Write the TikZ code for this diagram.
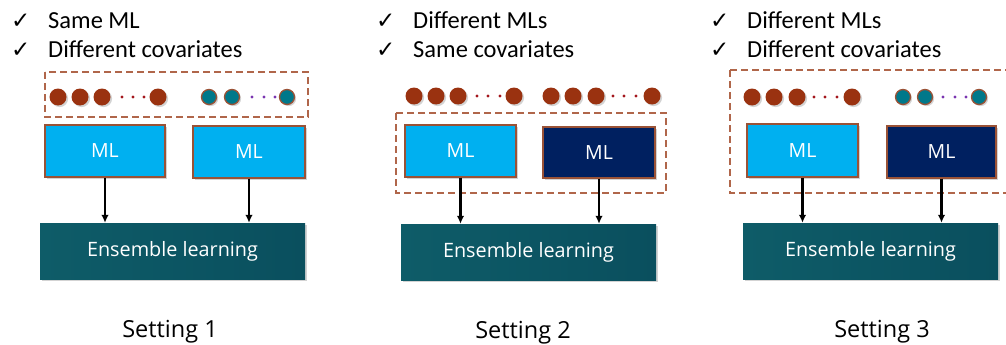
\documentclass[tikz,border=0pt]{standalone}
\usepackage{fontspec}
\setmainfont{Carlito}
\newfontfamily\boxfont{Open Sans}
\newfontfamily\symfont{DejaVu Sans}
\usetikzlibrary{shadows,arrows.meta}

\definecolor{mlblue}{HTML}{00B0F0}
\definecolor{mlnavy}{HTML}{002060}
\definecolor{enstealL}{HTML}{0E5C68}
\definecolor{enstealR}{HTML}{0A4F5E}
\definecolor{boxedge}{HTML}{9A5236}
\definecolor{dashedge}{HTML}{B0664A}
\definecolor{covbrown}{HTML}{9A3210}
\definecolor{covteal}{HTML}{00788A}
\definecolor{dotred}{HTML}{A3161C}
\definecolor{dotpurple}{HTML}{7A35B0}

\tikzset{
  softshadow/.style={drop shadow={opacity=0.35, shadow xshift=1.6pt, shadow yshift=-1.6pt}},
  mlbox/.style={rectangle, draw=boxedge, line width=1.1pt, inner sep=0pt,
    text=white, font=\boxfont\fontsize{19.5}{22}\selectfont, softshadow},
  lightml/.style={mlbox, fill=mlblue},
  navyml/.style={mlbox, fill=mlnavy},
  ensbox/.style={rectangle, inner sep=0pt, left color=enstealL, right color=enstealR,
    text=white, font=\boxfont\fontsize{19.8}{22}\selectfont, softshadow},
  dashbox/.style={draw=dashedge, line width=1.1pt, dash pattern=on 7pt off 4pt},
  bcov/.style={circle, fill=covbrown, inner sep=0pt, minimum size=17pt, softshadow},
  tcov/.style={circle, fill=covteal, draw=boxedge, line width=1.3pt, inner sep=0pt, minimum size=15pt, softshadow},
  reddot/.style={circle, fill=dotred, inner sep=0pt, minimum size=3.4pt},
  purpdot/.style={circle, fill=dotpurple, inner sep=0pt, minimum size=3.4pt},
  feed/.style={-{Latex[length=8pt,width=7.5pt]}, line width=2.4pt, draw=black},
  bullettext/.style={anchor=base west, inner sep=0pt, font=\fontsize{24.5}{28}\selectfont},
  tick/.style={anchor=base west, inner sep=0pt, font=\symfont\fontsize{23}{26}\selectfont},
  caption/.style={inner sep=0pt, font=\boxfont\fontsize{23.5}{27}\selectfont},
}

\begin{document}
\begin{tikzpicture}[x=1pt, y=-1pt]
\useasboundingbox (0,0) rectangle (1006,345);
\clip (0,0) rectangle (1006,345);

% ---------------- Setting 1 ----------------
\node[tick] (s1t1) at (11,29) {✓};
\node[bullettext] (s1b1) at (48,29) {Same ML};
\node[tick] (s1t2) at (11,57) {✓};
\node[bullettext] (s1b2) at (48,57) {Different covariates};

\draw[dashbox] (45,72) rectangle (308,117);
\node[bcov] (s1a1) at (58,97) {};
\node[bcov] (s1a2) at (80,97) {};
\node[bcov] (s1a3) at (102,97) {};
\node[reddot] (s1r1) at (122,97) {};
\node[reddot] (s1r2) at (133,97) {};
\node[reddot] (s1r3) at (144,97) {};
\node[bcov] (s1a4) at (158,97) {};
\node[tcov] (s1c1) at (209,97) {};
\node[tcov] (s1c2) at (232,97) {};
\node[purpdot] (s1p1) at (252,97) {};
\node[purpdot] (s1p2) at (264,97) {};
\node[purpdot] (s1p3) at (275,97) {};
\node[tcov] (s1c3) at (287,97) {};

\node[lightml, minimum width=120pt, minimum height=52pt] (s1m1) at (105,151) {ML};
\node[lightml, minimum width=112pt, minimum height=52pt] (s1m2) at (249,152) {ML};
\node[ensbox, minimum width=265pt, minimum height=56pt] (s1e) at (172.5,251) {Ensemble learning};
\draw[feed] (s1m1.south) -- (s1m1.south |- s1e.north);
\draw[feed] (s1m2.south) -- (s1m2.south |- s1e.north);
\node[caption] (s1cap) at (170,332) {Setting 1};

% ---------------- Setting 2 ----------------
\node[tick] (s2t1) at (376,29) {✓};
\node[bullettext] (s2b1) at (413,29) {Different MLs};
\node[tick] (s2t2) at (376,57) {✓};
\node[bullettext] (s2b2) at (413,57) {Same covariates};

\node[bcov] (s2a1) at (414,96) {};
\node[bcov] (s2a2) at (436,96) {};
\node[bcov] (s2a3) at (458,96) {};
\node[reddot] (s2r1) at (477,96) {};
\node[reddot] (s2r2) at (488,96) {};
\node[reddot] (s2r3) at (500,96) {};
\node[bcov] (s2a4) at (514,96) {};
\node[bcov] (s2b1c) at (551,96) {};
\node[bcov] (s2b2c) at (573,96) {};
\node[bcov] (s2b3c) at (596,96) {};
\node[reddot] (s2q1) at (613,96) {};
\node[reddot] (s2q2) at (624,96) {};
\node[reddot] (s2q3) at (636,96) {};
\node[bcov] (s2b4c) at (652,96) {};

\draw[dashbox] (396,113) rectangle (666,193);
\node[lightml, minimum width=111pt, minimum height=52pt] (s2m1) at (460.5,151) {ML};
\node[navyml, minimum width=112pt, minimum height=51pt] (s2m2) at (599,152.5) {ML};
\node[ensbox, minimum width=255pt, minimum height=56pt] (s2e) at (528.5,252) {Ensemble learning};
\draw[feed] (s2m1.south) -- (s2m1.south |- s2e.north);
\draw[feed] (s2m2.south) -- (s2m2.south |- s2e.north);
\node[caption] (s2cap) at (523,333) {Setting 2};

% ---------------- Setting 3 ----------------
\node[tick] (s3t1) at (710,29) {✓};
\node[bullettext] (s3b1) at (747,29) {Different MLs};
\node[tick] (s3t2) at (710,57) {✓};
\node[bullettext] (s3b2) at (747,57) {Different covariates};

\draw[dashbox] (730,70) -- (1012,70);
\draw[dashbox] (730,70) -- (730,193) -- (1012,193);
\node[bcov] (s3a1) at (752,97) {};
\node[bcov] (s3a2) at (774,97) {};
\node[bcov] (s3a3) at (797,97) {};
\node[reddot] (s3r1) at (814,97) {};
\node[reddot] (s3r2) at (825,97) {};
\node[reddot] (s3r3) at (837,97) {};
\node[bcov] (s3a4) at (852,97) {};
\node[tcov] (s3c1) at (903,97) {};
\node[tcov] (s3c2) at (925,97) {};
\node[purpdot] (s3p1) at (943,97) {};
\node[purpdot] (s3p2) at (955,97) {};
\node[purpdot] (s3p3) at (966,97) {};
\node[tcov] (s3c3) at (979,97) {};

\node[lightml, minimum width=111pt, minimum height=53pt] (s3m1) at (802.5,150.5) {ML};
\node[navyml, minimum width=109pt, minimum height=52pt] (s3m2) at (941.5,152) {ML};
\node[ensbox, minimum width=255pt, minimum height=56pt] (s3e) at (870.5,251) {Ensemble learning};
\draw[feed] (s3m1.south) -- (s3m1.south |- s3e.north);
\draw[feed] (s3m2.south) -- (s3m2.south |- s3e.north);
\node[caption] (s3cap) at (882,332) {Setting 3};
\end{tikzpicture}
\end{document}
